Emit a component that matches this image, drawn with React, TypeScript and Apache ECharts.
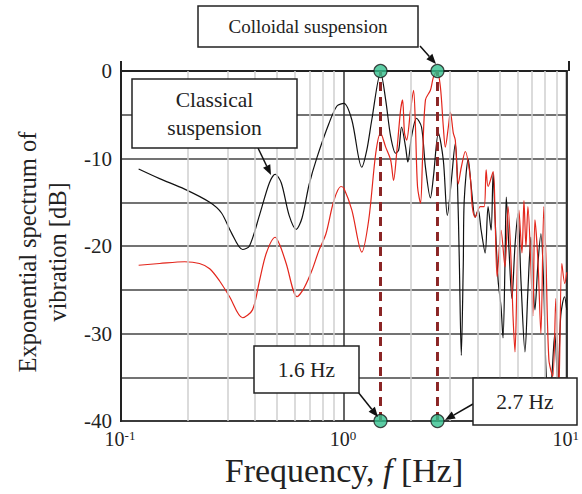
import React, { useEffect, useRef } from "react";
import * as echarts from "echarts";

// ---- data ----
const freqBlack = [
  0.12, 0.149, 0.193, 0.25, 0.282, 0.313, 0.351, 0.377, 0.418, 0.463, 0.492, 0.524, 0.568, 0.611, 0.649, 0.698,
  0.757, 0.857, 0.931, 1.0, 1.086, 1.203, 1.267, 1.334, 1.462, 1.54, 1.622, 1.707, 1.761, 1.815, 1.892, 1.937,
  2.012, 2.118, 2.23, 2.323, 2.445, 2.522, 2.655, 2.794, 2.912, 3.036, 3.162, 3.228, 3.295, 3.364, 3.434, 3.467,
  3.614, 3.726, 3.883, 4.006, 4.13, 4.305, 4.436, 4.577, 4.674, 4.772, 4.92, 5.073, 5.176, 5.284, 5.355, 5.508,
  5.675, 5.857, 6.043, 6.232, 6.494, 6.697, 6.906, 7.197, 7.425, 7.656, 7.894, 8.054, 8.315, 8.574, 8.84, 9.126,
  9.397, 9.77, 10.0,
];
const dbBlack = [
  -11.2, -12.3, -13.5, -15.0, -16.2, -18.5, -20.4, -20.0, -16.5, -12.8, -11.8, -12.8, -16.5, -18.1, -16.8, -13.0,
  -9.9, -6.0, -4.0, -3.7, -5.6, -11.0, -9.05, -5.6, -0.2, -3.3, -7.5, -9.4, -9.05, -6.4, -8.7, -10.4,
  -7.5, -5.4, -6.4, -11.0, -14.5, -12.1, -7.1, -10.2, -16.5, -12.5, -8.3, -12.1, -21.6, -32.5, -22.0, -14.8,
  -10.1, -13.2, -16.7, -15.9, -18.2, -20.8, -15.5, -18.2, -11.7, -17.0, -23.9, -27.0, -30.5, -22.0, -14.4, -20.5,
  -26.0, -20.0, -16.3, -24.0, -32.1, -25.0, -19.0, -27.3, -22.0, -18.6, -25.0, -33.6, -39.0, -34.9, -30.0, -36.0,
  -28.0, -25.8, -27.3,
];

const freqRed = [
  0.12, 0.149, 0.193, 0.225, 0.25, 0.277, 0.307, 0.351, 0.389, 0.418, 0.449, 0.492, 0.518, 0.551, 0.617, 0.663,
  0.72, 0.773, 0.831, 0.902, 0.97, 1.0, 1.086, 1.203, 1.293, 1.39, 1.462, 1.54, 1.622, 1.671, 1.725, 1.796,
  1.834, 1.871, 1.912, 1.991, 2.054, 2.095, 2.14, 2.207, 2.253, 2.323, 2.445, 2.522, 2.615, 2.71, 2.794, 2.852,
  2.943, 3.005, 3.098, 3.162, 3.259, 3.364, 3.505, 3.69, 3.768, 3.883, 4.089, 4.259, 4.347, 4.436, 4.674, 4.772,
  4.87, 5.073, 5.284, 5.454, 5.623, 5.74, 5.857, 5.978, 6.101, 6.297, 6.427, 6.56, 6.697, 6.906, 7.047, 7.197,
  7.425, 7.656, 7.894, 8.054, 8.315, 8.66, 8.933, 9.206, 9.504, 9.795, 10.0,
];
const dbRed = [
  -22.2, -22.0, -21.8, -22.0, -22.6, -24.0, -25.8, -28.2, -27.3, -24.0, -20.8, -19.0, -20.0, -22.0, -25.8, -24.8,
  -22.75, -20.5, -18.6, -14.8, -13.2, -13.4, -15.9, -20.7, -17.0, -9.4, -7.1, -8.7, -10.2, -12.5, -9.4, -4.5,
  -3.3, -7.1, -7.9, -4.5, -2.2, -6.4, -13.2, -15.1, -10.2, -3.3, -2.2, -0.7, 0.0, -1.8, -6.4, -8.7,
  -6.4, -4.7, -7.1, -7.9, -12.9, -11.0, -9.2, -12.1, -15.5, -16.7, -15.5, -15.5, -11.3, -13.2, -11.5, -17.0,
  -23.5, -18.2, -22.4, -15.5, -21.6, -28.0, -32.1, -24.0, -15.9, -20.8, -14.8, -20.1, -15.5, -22.4, -28.0, -17.0,
  -21.6, -30.0, -15.5, -20.8, -33.0, -34.9, -26.0, -37.0, -22.0, -24.3, -23.0,
];

const peakFreqs = [1.46, 2.63];
const minorGridFreqs = [0.2, 0.3, 0.4, 0.5, 0.6, 0.7, 0.8, 0.9, 2, 3, 4, 5, 6, 7, 8, 9];
const yMin = -40;
const yMax = 0;

const FONT = '"Liberation Serif", "Times New Roman", serif';

function arrow(x1: number, y1: number, x2: number, y2: number) {
  const dx = x2 - x1;
  const dy = y2 - y1;
  const len = Math.sqrt(dx * dx + dy * dy);
  const ux = dx / len;
  const uy = dy / len;
  const hl = 10;
  const hw = 4;
  const bx = x2 - ux * hl;
  const by = y2 - uy * hl;
  return [
    {
      type: "line",
      shape: { x1, y1, x2: bx, y2: by },
      style: { stroke: "#111", lineWidth: 1.5 },
      z: 100,
    },
    {
      type: "polygon",
      shape: {
        points: [
          [x2, y2],
          [bx - uy * hw, by + ux * hw],
          [bx + uy * hw, by - ux * hw],
        ],
      },
      style: { fill: "#111" },
      z: 100,
    },
  ];
}

function box(x: number, y: number, w: number, h: number, text: string, size: number, lineHeight = 26) {
  return [
    {
      type: "rect",
      shape: { x, y, width: w, height: h },
      style: { fill: "#fff", stroke: "#222", lineWidth: 1.5 },
      z: 100,
    },
    {
      type: "text",
      x: x + w / 2,
      y: y + h / 2,
      style: {
        text,
        font: `${size}px ${FONT}`,
        fill: "#222",
        textAlign: "center",
        textVerticalAlign: "middle",
        lineHeight,
      },
      z: 101,
    },
  ];
}

export default function App() {
  const ref = useRef<HTMLDivElement>(null);
  useEffect(() => {
    if (!ref.current) return;
    const chart = echarts.init(ref.current, undefined, { renderer: "svg" });
    const blackData = freqBlack.map((f, i) => [f, dbBlack[i]]);
    const redData = freqRed.map((f, i) => [f, dbRed[i]]);
    const dots: number[][] = [];
    peakFreqs.forEach((f) => {
      dots.push([f, yMax]);
      dots.push([f, yMin]);
    });

    chart.setOption({
      animation: false,
      backgroundColor: "#fff",
      grid: {
        left: 121,
        right: 13,
        top: 71,
        bottom: 73,
        show: true,
        borderColor: "#222",
        borderWidth: 2,
        backgroundColor: "transparent",
      },
      xAxis: {
        type: "log",
        logBase: 10,
        min: 0.1,
        max: 10,
        axisLine: { show: true, lineStyle: { color: "#222", width: 2 } },
        axisTick: { show: false },
        splitLine: { show: true, lineStyle: { color: "#333", width: 1.5 } },
        axisLabel: {
          margin: 8,
          padding: [0, 2, 0, 0],
          formatter: (v: number) => `{b|10}{s|${Math.round(Math.log10(v))}}`,
          rich: {
            b: { fontFamily: FONT, fontSize: 20, color: "#222" },
            s: { fontFamily: FONT, fontSize: 13, color: "#222", verticalAlign: "top" },
          },
        },
      },
      yAxis: {
        type: "value",
        min: yMin,
        max: yMax,
        interval: 5,
        axisLine: { show: true, lineStyle: { color: "#222", width: 2 } },
        axisTick: { show: false },
        splitLine: { show: true, lineStyle: { color: "#444", width: 1.5 } },
        axisLabel: {
          margin: 9,
          fontFamily: FONT,
          fontSize: 21,
          color: "#222",
          formatter: (v: number) => (v % 10 === 0 ? String(v) : ""),
        },
      },
      series: [
        {
          type: "line",
          data: [],
          z: 1,
          markLine: {
            silent: true,
            symbol: "none",
            label: { show: false },
            lineStyle: { color: "#cfcfcf", width: 1.5, type: "solid" },
            data: minorGridFreqs.map((f) => ({ xAxis: f })),
          },
        },
        {
          name: "Classical suspension",
          type: "line",
          data: blackData,
          showSymbol: false,
          smooth: 0.3,
          lineStyle: { color: "#111", width: 1.2 },
          z: 3,
        },
        {
          name: "Colloidal suspension",
          type: "line",
          data: redData,
          showSymbol: false,
          smooth: 0.3,
          lineStyle: { color: "#e3261c", width: 1.2 },
          z: 4,
        },
        ...peakFreqs.map((f) => ({
          type: "line",
          data: [
            [f, yMin],
            [f, yMax],
          ],
          showSymbol: false,
          lineStyle: { color: "#8b2525", width: 3, type: [9, 6] },
          z: 5,
        })),
        {
          type: "scatter",
          data: dots,
          symbolSize: 13,
          clip: false,
          itemStyle: { color: "#35c08f", borderColor: "#1a1a1a", borderWidth: 1.2 },
          z: 6,
        },
      ],
      graphic: [
        { type: "line", shape: { x1: 121, y1: 61, x2: 121, y2: 71 }, style: { stroke: "#222", lineWidth: 2 } },
        { type: "line", shape: { x1: 569, y1: 61, x2: 569, y2: 71 }, style: { stroke: "#222", lineWidth: 2 } },
        ...arrow(420, 46, 436, 64),
        ...box(198, 6, 220, 41, "Colloidal suspension", 19),
        ...arrow(258, 148, 271, 175),
        ...box(132, 79, 165, 69, "Classical\nsuspension", 21.5, 28),
        ...arrow(358, 392, 378, 417),
        ...box(254, 346, 105, 47, "1.6 Hz", 21.5),
        ...arrow(473, 404, 445, 420),
        ...box(473, 378, 104, 47, "2.7 Hz", 21.5),
        {
          type: "text",
          x: 344,
          y: 470,
          style: {
            text: "Frequency, {i|f} [Hz]",
            font: `34px ${FONT}`,
            fill: "#222",
            textAlign: "center",
            textVerticalAlign: "middle",
            rich: { i: { fontStyle: "italic", fontFamily: FONT, fontSize: 34, fill: "#222" } },
          },
        },
        {
          type: "text",
          x: 27,
          y: 252,
          rotation: Math.PI / 2,
          style: {
            text: "Exponential spectrum of",
            font: `24.5px ${FONT}`,
            fill: "#222",
            textAlign: "center",
            textVerticalAlign: "middle",
          },
        },
        {
          type: "text",
          x: 57,
          y: 252,
          rotation: Math.PI / 2,
          style: {
            text: "vibration [dB]",
            font: `24.5px ${FONT}`,
            fill: "#222",
            textAlign: "center",
            textVerticalAlign: "middle",
          },
        },
      ],
    });
    return () => chart.dispose();
  }, []);
  return (
    <div
      ref={ref}
      style={{ position: "absolute", left: 0, top: 0, width: 582, height: 494 }}
    />
  );
}
